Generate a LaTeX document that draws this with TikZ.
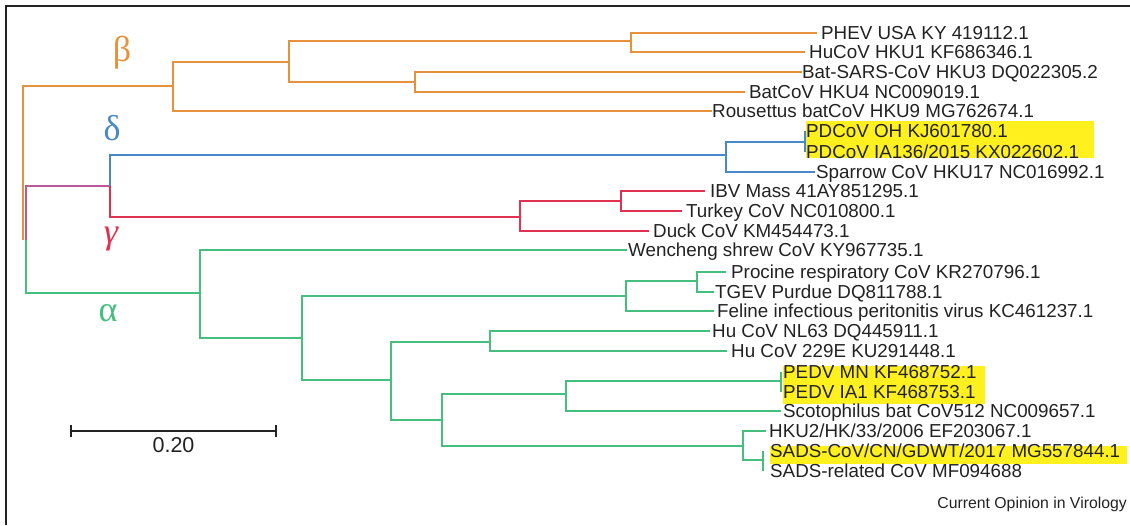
\documentclass[tikz,border=0pt]{standalone}
\usepackage{fontspec}
\setmainfont{Liberation Sans}
\newfontfamily\grk{Liberation Serif}
\definecolor{orB}{RGB}{232,145,60}
\definecolor{blD}{RGB}{74,137,200}
\definecolor{rdG}{RGB}{224,50,80}
\definecolor{gnA}{RGB}{70,190,125}
\definecolor{puDG}{RGB}{185,90,150}
\definecolor{ylH}{RGB}{255,240,30}
\definecolor{txt}{RGB}{34,34,34}
\newcommand\leafat[5]{\coordinate (#1) at (#2,#3); \node[leaf] (#1t) at (#4-1,#3) {#5};}
\begin{document}
\begin{tikzpicture}[x=1pt,y=-1pt,
  leaf/.style={anchor=base west,inner sep=0pt,yshift=-6.7pt,text=txt,font=\fontsize{18.8}{20}\selectfont},
  br/.style={line width=2pt,line join=miter,line cap=butt},
  greek/.style={inner sep=0pt,anchor=center,font=\grk\fontsize{36}{38}\selectfont},
  hl/.style={fill=ylH,draw=none}]
\useasboundingbox (0,0) rectangle (1130,525);
% frame
\draw[line width=1.5pt,txt] (6,525) -- (6,6) -- (1130,6);
% highlights
\fill[hl] (806,121) rectangle (1094,158);
\fill[hl] (783,366) rectangle (985,404);
\fill[hl] (770,446) rectangle (1127,464);
% internal node coordinates
\coordinate (rootB) at (23,240);
\coordinate (rootA) at (25.5,240);
\coordinate (nB) at (173,86);
\coordinate (nB1) at (289,62);
\coordinate (nB2) at (631,41);
\coordinate (nB3) at (415,82);
\coordinate (nDG) at (110,186);
\coordinate (nD) at (726,155);
\coordinate (nD1) at (805,142);
\coordinate (nG) at (520,217);
\coordinate (nG1) at (621,201);
\coordinate (nA) at (200,293);
\coordinate (nA1) at (302,338);
\coordinate (nA2) at (626,296);
\coordinate (nA4) at (697,281);
\coordinate (nA3) at (391,380);
\coordinate (nA5) at (490,342);
\coordinate (nA6) at (442,420);
\coordinate (nA7) at (566,394);
\coordinate (nA9) at (781,381);
\coordinate (nA8) at (743,446);
\coordinate (nA10) at (763,460);
% leaves
\leafat{l1}{817}{33}{822}{PHEV USA KY 419112.1}
\leafat{l2}{805}{52}{810}{HuCoV HKU1 KF686346.1}
\leafat{l3}{802}{72}{803}{Bat-SARS-CoV HKU3 DQ022305.2}
\leafat{l4}{745}{92}{750}{BatCoV HKU4 NC009019.1}
\leafat{l5}{712}{111}{713}{Rousettus batCoV HKU9 MG762674.1}
\leafat{l6}{805}{131}{807}{PDCoV OH KJ601780.1}
\leafat{l7}{805}{152}{807}{PDCoV IA136/2015 KX022602.1}
\leafat{l8}{815}{172}{817}{Sparrow CoV HKU17 NC016992.1}
\leafat{l9}{705}{191}{711}{IBV Mass 41AY851295.1}
\leafat{l10}{682}{211}{687}{Turkey CoV NC010800.1}
\leafat{l11}{649}{231}{654}{Duck CoV KM454473.1}
\leafat{l12}{627}{250}{629}{Wencheng shrew CoV KY967735.1}
\leafat{l13}{726}{272}{732}{Procine respiratory CoV KR270796.1}
\leafat{l14}{714}{292}{716}{TGEV Purdue DQ811788.1}
\leafat{l15}{714}{311}{718}{Feline infectious peritonitis virus KC461237.1}
\leafat{l16}{710}{331}{713}{Hu CoV NL63 DQ445911.1}
\leafat{l17}{727}{351}{732}{Hu CoV 229E KU291448.1}
\leafat{l18}{781}{372}{784}{PEDV MN KF468752.1}
\leafat{l19}{781}{392}{784}{PEDV IA1 KF468753.1}
\leafat{l20}{781}{411}{784}{Scotophilus bat CoV512 NC009657.1}
\leafat{l21}{766}{431}{770}{HKU2/HK/33/2006 EF203067.1}
\leafat{l22}{763}{451}{771}{SADS-CoV/CN/GDWT/2017 MG557844.1}
\leafat{l23}{763}{471}{771}{SADS-related CoV MF094688}
% beta
\draw[br,orB] (rootB) |- (nB);
\draw[br,orB] (nB) |- (nB1);
\draw[br,orB] (nB) |- (l5);
\draw[br,orB] (nB1) |- (nB2);
\draw[br,orB] (nB1) |- (nB3);
\draw[br,orB] (nB2) |- (l1);
\draw[br,orB] (nB2) |- (l2);
\draw[br,orB] (nB3) |- (l3);
\draw[br,orB] (nB3) |- (l4);
% delta / gamma
\draw[br,puDG] (rootA) |- (nDG);
\draw[br,blD] (nDG) |- (nD);
\draw[br,blD] (nD) |- (nD1);
\draw[br,blD] (nD) |- (l8);
\draw[br,blD] (nD1) |- (l6);
\draw[br,blD] (nD1) |- (l7);
\draw[br,rdG] (nDG) |- (nG);
\draw[br,rdG] (nG) |- (nG1);
\draw[br,rdG] (nG) |- (l11);
\draw[br,rdG] (nG1) |- (l9);
\draw[br,rdG] (nG1) |- (l10);
% alpha
\draw[br,gnA] (rootA) |- (nA);
\draw[br,gnA] (nA) |- (l12);
\draw[br,gnA] (nA) |- (nA1);
\draw[br,gnA] (nA1) |- (nA2);
\draw[br,gnA] (nA1) |- (nA3);
\draw[br,gnA] (nA2) |- (nA4);
\draw[br,gnA] (nA2) |- (l15);
\draw[br,gnA] (nA4) |- (l13);
\draw[br,gnA] (nA4) |- (l14);
\draw[br,gnA] (nA3) |- (nA5);
\draw[br,gnA] (nA3) |- (nA6);
\draw[br,gnA] (nA5) |- (l16);
\draw[br,gnA] (nA5) |- (l17);
\draw[br,gnA] (nA6) |- (nA7);
\draw[br,gnA] (nA6) |- (nA8);
\draw[br,gnA] (nA7) |- (nA9);
\draw[br,gnA] (nA7) |- (l20);
\draw[br,gnA] (nA9) |- (l18);
\draw[br,gnA] (nA9) |- (l19);
\draw[br,gnA] (nA8) |- (l21);
\draw[br,gnA] (nA8) |- (nA10);
\draw[br,gnA] (nA10) |- (l22);
\draw[br,gnA] (nA10) |- (l23);
% greek labels
\node[greek,text=orB] (gb) at (122,53) {β};
\node[greek,text=blD] (gd) at (112,128.5) {δ};
\node[greek,text=rdG] (gg) at (111,239) {\itshape γ};
\node[greek,text=gnA] (ga) at (108,313.5) {α};
% scale bar
\coordinate (sb1) at (71,431);
\coordinate (sb2) at (276,431);
\draw[line width=2pt,txt] (sb1) -- (sb2);
\draw[line width=2pt,txt] ([yshift=6pt]sb1) -- ([yshift=-6pt]sb1);
\draw[line width=2pt,txt] ([yshift=6pt]sb2) -- ([yshift=-6pt]sb2);
\node[inner sep=0pt,anchor=base,text=txt,font=\fontsize{21.5}{23}\selectfont] (sbl) at (173.5,452) {0.20};
% credit
\node[inner sep=0pt,anchor=base east,text=txt,font=\fontsize{15.8}{17}\selectfont] (cred) at (1127,508.5) {Current Opinion in Virology};
\end{tikzpicture}
\end{document}
